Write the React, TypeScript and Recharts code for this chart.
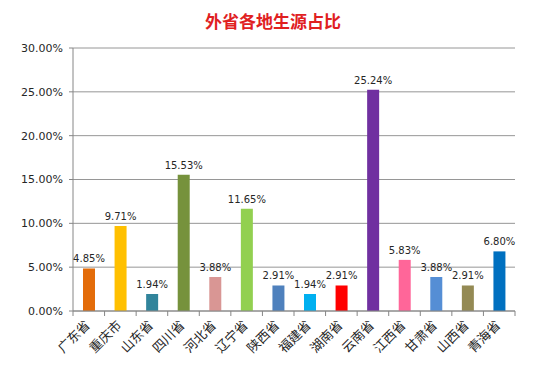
import { Bar, BarChart, CartesianGrid, Cell, LabelList, XAxis, YAxis } from 'recharts';

const provinces = [
  '广东省', '重庆市', '山东省', '四川省', '河北省', '辽宁省', '陕西省',
  '福建省', '湖南省', '云南省', '江西省', '甘肃省', '山西省', '青海省',
];
const shares = [4.85, 9.71, 1.94, 15.53, 3.88, 11.65, 2.91, 1.94, 2.91, 25.24, 5.83, 3.88, 2.91, 6.8];
const barColors = [
  '#e36c0a', '#ffc000', '#31849b', '#76923c', '#d99694', '#92d050', '#4f81bd',
  '#00b0f0', '#ff0000', '#7030a0', '#ff6699', '#558ed5', '#948a54', '#0070c0',
];
const yTicks = [0, 5, 10, 15, 20, 25, 30];

const data = provinces.map((name, i) => ({ name, share: shares[i] }));

const pct = (v: number) => `${Number(v).toFixed(2)}%`;

function ProvinceTick(props: any) {
  const { x, y, payload, index, visibleTicksCount } = props;
  const half = payload?.offset ?? 0;
  const isLast = index === visibleTicksCount - 1;
  const tx = x + 2;
  const ty = y + 15;
  return (
    <g>
      <line x1={x - half} y1={y} x2={x - half} y2={y + 5} stroke="#868686" />
      {isLast && <line x1={x + half} y1={y} x2={x + half} y2={y + 5} stroke="#868686" />}
      <text
        x={tx}
        y={ty}
        textAnchor="end"
        transform={`rotate(-45, ${tx}, ${ty})`}
        fontSize={13}
        fill="#262626"
        fontFamily='"Noto Sans CJK SC", sans-serif'
      >
        {payload.value}
      </text>
    </g>
  );
}

export default function App() {
  return (
    <div style={{ position: 'absolute', left: 0, top: 0, width: 546, height: 367, background: '#fff' }}>
      <div
        style={{
          position: 'absolute',
          top: 9,
          left: 0,
          width: 546,
          textAlign: 'center',
          color: '#e0201f',
          fontWeight: 'bold',
          fontSize: 17,
          lineHeight: '24px',
          fontFamily: '"Noto Sans CJK SC", sans-serif',
        }}
      >
        外省各地生源占比
      </div>
      <BarChart width={546} height={367} data={data} margin={{ top: 48, right: 31, left: 0, bottom: 0 }}>
        <CartesianGrid vertical={false} stroke="#969696" />
        <XAxis
          dataKey="name"
          interval={0}
          height={56}
          stroke="#868686"
          tickLine={false}
          tickSize={0}
          tickMargin={0}
          tick={<ProvinceTick />}
        />
        <YAxis
          domain={[0, 30]}
          ticks={yTicks}
          width={73}
          stroke="#868686"
          tickSize={4}
          tickMargin={6}
          tickFormatter={pct}
          tick={{ fontSize: 11, fill: '#262626', fontFamily: '"DejaVu Sans", sans-serif' }}
        />
        <Bar dataKey="share" barSize={12} isAnimationActive={false}>
          {data.map((d, i) => (
            <Cell key={d.name} fill={barColors[i]} />
          ))}
          <LabelList
            dataKey="share"
            position="top"
            offset={6}
            formatter={(v: any) => pct(v)}
            style={{ fontSize: 10, fill: '#262626', fontFamily: '"DejaVu Sans", sans-serif' }}
          />
        </Bar>
      </BarChart>
    </div>
  );
}
